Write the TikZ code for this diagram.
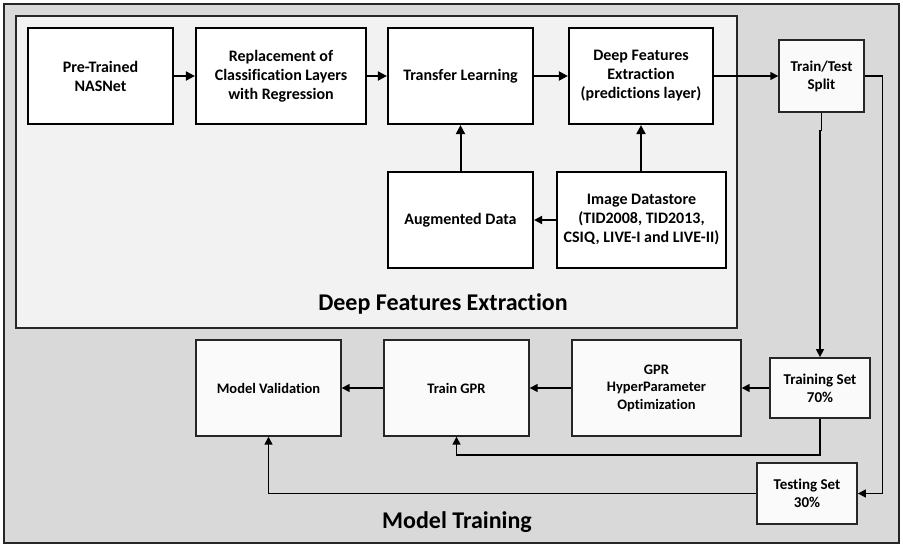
\documentclass[tikz,border=0pt]{standalone}
\usepackage{fontspec}
\setmainfont{Carlito}[Ligatures=NoCommon]
\usetikzlibrary{arrows.meta}
\definecolor{outerbg}{HTML}{D9D9D9}
\definecolor{innerbg}{HTML}{F2F2F2}
\definecolor{lowfill}{HTML}{FAFAFA}
\begin{document}
\begin{tikzpicture}[x=1pt,y=-1pt,
  topbox/.style={draw=black, line width=2.2pt, fill=white, align=center,
    font=\bfseries\fontsize{16}{19}\selectfont, inner sep=0pt},
  lowbox/.style={draw=black!85, line width=1.4pt, fill=lowfill, align=center,
    font=\bfseries\fontsize{14.5}{17.5}\selectfont, inner sep=0pt},
  tarr/.style={line width=2pt, -{Triangle[length=9pt,width=9pt]}},
  arr/.style={line width=1.5pt, -{Triangle[length=8pt,width=8pt]}},
  title/.style={font=\bfseries\fontsize{24}{28}\selectfont, inner sep=0pt}
]
\useasboundingbox (0,0) rectangle (903,546);
\draw[fill=outerbg, draw=black!85, line width=1.6pt] (4,4) rectangle (899,543);
\draw[fill=innerbg, draw=black!85, line width=1.4pt] (16,16) rectangle (737,328);

% top section
\node[topbox, minimum width=145pt, minimum height=96pt] (nas) at (100.5,76) {Pre-Trained\\NASNet};
\node[topbox, minimum width=170pt, minimum height=96pt] (rep) at (281,76) {Replacement of\\Classification Layers\\with Regression};
\node[topbox, minimum width=145pt, minimum height=96pt] (tl) at (460.5,76) {Transfer Learning};
\node[topbox, minimum width=144pt, minimum height=96pt] (dfe) at (641,76) {Deep Features\\Extraction\\(predictions layer)};
\node[topbox, minimum width=145pt, minimum height=96pt] (aug) at (460.5,220) {Augmented Data};
\node[topbox, minimum width=169pt, minimum height=96pt] (ids) at (641.5,220) {Image Datastore\\(TID2008, TID2013,\\CSIQ, LIVE-I and LIVE-II)};
\node[title] (t1) at (443,304) {Deep Features Extraction};

% lower section
\node[lowbox, font=\bfseries\fontsize{15}{18}\selectfont, minimum width=85pt, minimum height=72pt] (tts) at (821.5,76) {Train/Test\\Split};
\node[lowbox, line width=1.8pt, font=\bfseries\fontsize{15}{18}\selectfont, minimum width=100pt, minimum height=60pt] (trs) at (820,388) {Training Set\\70\%};
\node[lowbox, line width=1.8pt, font=\bfseries\fontsize{15}{18}\selectfont, minimum width=100pt, minimum height=61pt] (tes) at (807,493.5) {Testing Set\\30\%};
\node[lowbox, minimum width=169pt, minimum height=96pt] (gpr) at (656.5,388) {GPR\\HyperParameter\\Optimization};
\node[lowbox, minimum width=145pt, minimum height=96pt] (tgpr) at (456.5,388) {Train GPR};
\node[lowbox, minimum width=145pt, minimum height=96pt] (mv) at (268.5,388) {Model Validation};
\node[title] (t2) at (457,522) {Model Training};

% connectors
\draw[tarr] (nas) -- (rep);
\draw[tarr] (rep) -- (tl);
\draw[tarr] (tl) -- (dfe);
\draw[tarr] (aug) -- (tl);
\draw[tarr] (ids.north -| dfe) -- (dfe.south);
\draw[arr, line width=1.7pt] (ids) -- (aug);
\draw[arr] (dfe) -- (tts);
\draw[arr] (tts.south) -- ++(0,18) -| (trs.north);
\draw[arr] (tts.east) -- ++(18,0) |- (tes.east);
\draw[arr] (trs) -- (gpr);
\draw[arr] (gpr) -- (tgpr);
\draw[arr] (tgpr) -- (mv);
\draw[arr] (trs.south) -- ++(0,36) -| (tgpr.south);
\draw[arr] (tes.west) -| (mv.south);
\end{tikzpicture}
\end{document}
